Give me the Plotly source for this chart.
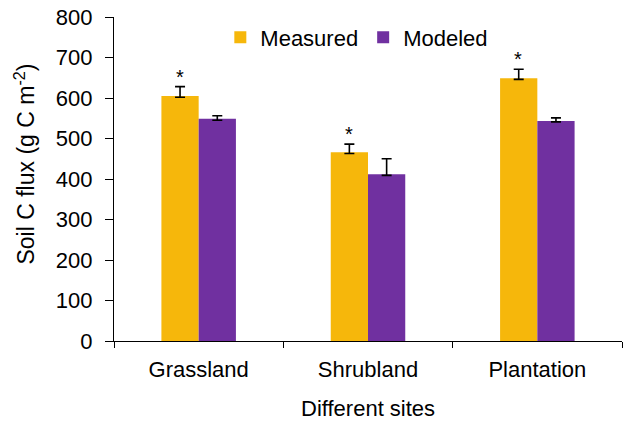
import plotly.graph_objects as go

sites = ["Grassland", "Shrubland", "Plantation"]
measured = [605, 466, 649]
measured_err_plus = [23, 20, 22]
measured_err_minus = [3, 3, 3]
modeled = [549, 412, 543]
modeled_err_plus = [7, 38, 8]
modeled_err_minus = [4, 3, 2]
y_ticks = [0, 100, 200, 300, 400, 500, 600, 700, 800]

FONT = "Liberation Sans, Arial, sans-serif"

fig = go.Figure()
fig.add_trace(go.Bar(
    name="Measured", x=sites, y=measured, marker_color="#F6B70B",
    marker_line_width=0,
    error_y=dict(type="data", symmetric=False, array=measured_err_plus,
                 arrayminus=measured_err_minus, color="black", thickness=1.6, width=5),
))
fig.add_trace(go.Bar(
    name="Modeled", x=sites, y=modeled, marker_color="#7030A0",
    marker_line_width=0,
    error_y=dict(type="data", symmetric=False, array=modeled_err_plus,
                 arrayminus=modeled_err_minus, color="black", thickness=1.6, width=5),
))

for s, v, e in zip(sites, measured, measured_err_plus):
    fig.add_annotation(x=s, y=v + e, text="*", showarrow=False, xshift=-19,
                       yshift=-3, yanchor="bottom", font=dict(size=20, color="black", family=FONT))

fig.add_annotation(xref="paper", yref="paper", x=-0.175, y=0.545,
                   text="Soil C flux (g C m<sup>-2</sup>)", textangle=-90, showarrow=False,
                   xanchor="center", yanchor="middle", font=dict(size=23, color="black", family=FONT))
fig.add_annotation(xref="paper", yref="paper", x=0.5, y=-0.207,
                   text="Different sites", showarrow=False,
                   xanchor="center", yanchor="middle", font=dict(size=22, color="black", family=FONT))

fig.update_layout(
    width=642, height=423,
    margin=dict(l=114, r=20, t=17, b=82, autoexpand=False),
    paper_bgcolor="white", plot_bgcolor="white",
    barmode="group", bargap=0.56, bargroupgap=0,
    font=dict(family=FONT, size=22, color="black"),
    legend=dict(orientation="h", x=0.478, xanchor="center", y=0.937, yanchor="middle",
                font=dict(size=22), bgcolor="rgba(0,0,0,0)", itemwidth=30),
    xaxis=dict(
        showline=True, linecolor="black", linewidth=1.3,
        ticks="outside", tickson="boundaries", ticklen=6, tickcolor="black", tickwidth=1.3,
        tickfont=dict(size=22), showgrid=False, automargin=False, ticklabelstandoff=8,
    ),
    yaxis=dict(
        range=[0, 800], tickvals=y_ticks,
        showline=True, linecolor="black", linewidth=1.3,
        ticks="outside", ticklen=8, tickcolor="black", tickwidth=1.3,
        tickfont=dict(size=22), showgrid=False, zeroline=False, ticklabelstandoff=8,
        automargin=False,
    ),
)

fig.write_html("out.html", config={"displayModeBar": False},
               post_script="document.body.style.margin='0';")
